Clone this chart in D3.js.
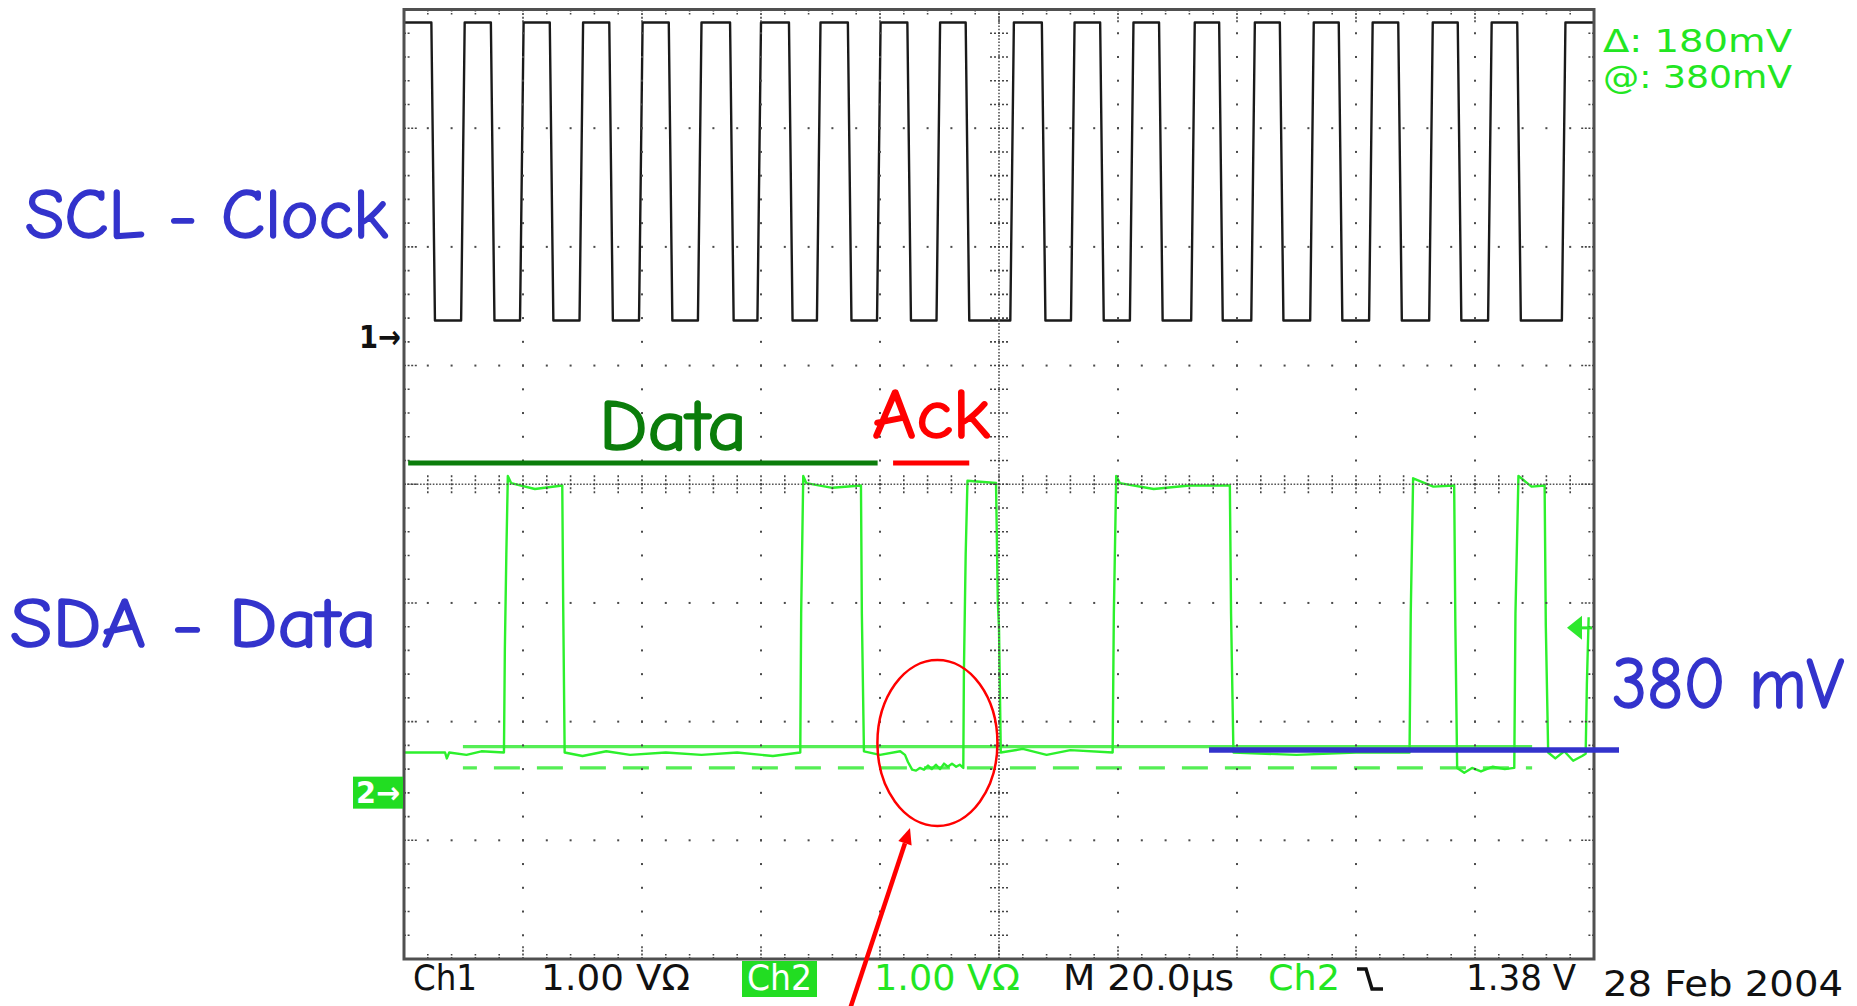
<!DOCTYPE html>
<html>
<head>
<meta charset="utf-8">
<script src="https://cdn.jsdelivr.net/npm/d3@7"></script>
<style>
  body { margin: 0; background: #fff; }
  svg { display: block; }
</style>
</head>
<body>
<div id="scope"></div>
<script>
// --- data (time in µs, voltage in V) ---

// Ch1 = SCL, edge times
var sclFalls = [4.6, 14.6, 24.5, 34.5, 44.5, 54.8, 64.7, 74.6, 84.6, 94.4,
                107.2, 117.0, 126.9, 137.0, 147.2, 157.1, 167.1, 177.1, 187.1];
var sclRises = [9.6, 19.5, 29.5, 39.5, 49.4, 59.4, 69.4, 79.5, 89.5, 101.9,
                112.1, 122.0, 132.3, 142.4, 152.3, 162.2, 172.3, 182.2, 194.6];
var sclHigh = 2.64, sclLow = 0.13;

// Ch2 = SDA, trace vertices [µs, V]
var sdaPoints = [
  [0, 0.33], [6.9, 0.33], [7.2, 0.28], [7.6, 0.33], [10.5, 0.31], [13, 0.34], [16.8, 0.33],
  [16.95, 1.2], [17.2, 2.0], [17.45, 2.66], [18.0, 2.6], [22, 2.55], [26.6, 2.58],
  [26.75, 1.6], [27.0, 0.33], [30, 0.30], [34, 0.34], [38, 0.31], [44, 0.33], [50, 0.31],
  [56, 0.33], [62, 0.30], [66.6, 0.33],
  [66.75, 1.5], [67.1, 2.66], [67.6, 2.6], [72, 2.56], [76.8, 2.58],
  [76.95, 1.5], [77.3, 0.34], [80, 0.31], [83.4, 0.34],
  [84.2, 0.31], [84.7, 0.25], [85.4, 0.185], [86.05, 0.177], [86.7, 0.2], [87.4, 0.185],
  [88.07, 0.22], [88.7, 0.19], [89.4, 0.227], [90.1, 0.19], [90.76, 0.236], [91.4, 0.21],
  [92.1, 0.236], [92.8, 0.21], [93.4, 0.227], [94.0, 0.2],
  [94.1, 1.0], [94.4, 2.0], [94.7, 2.62], [99.5, 2.6],
  [99.8, 1.6], [100.0, 1.38], [100.3, 0.33], [104, 0.36], [108, 0.31], [112, 0.35], [119.1, 0.33],
  [119.3, 1.5], [119.7, 2.66], [120.3, 2.6], [126, 2.55], [132, 2.58], [138.8, 2.58],
  [139.0, 1.5], [139.4, 0.33], [150, 0.31], [160, 0.33], [169.0, 0.33],
  [169.2, 1.5], [169.6, 2.64], [173, 2.57], [176.5, 2.58],
  [176.7, 1.4], [177.0, 0.2], [178.2, 0.16], [179.5, 0.2], [181, 0.17], [183, 0.21], [185, 0.19], [186.6, 0.2],
  [186.8, 1.5], [187.3, 2.66], [189.5, 2.57], [191.7, 2.58],
  [191.9, 1.4], [192.3, 0.33], [193.5, 0.28], [195, 0.34], [196.5, 0.26], [198, 0.3], [198.6, 0.32],
  [198.8, 0.9], [199.1, 1.47]
];

// cursors / trigger
var cursorVolts = [0.38, 0.20];
var cursorSpan = [9.9, 189.6];
var triggerVolts = 1.38;

// status line texts
var statusLeft = ["Ch1", "1.00 VΩ"];
var statusCh2 = ["Ch2", "1.00 VΩ"];
var statusTime = "M 20.0µs";
var statusTrig = ["Ch2", "1.38 V"];
var captureDate = "28 Feb 2004";
var cursorReadout = ["Δ: 180mV", "@: 380mV"];

// annotation labels
var labelScl = "SCL - Clock", labelSda = "SDA - Data";
var labelData = "Data", labelAck = "Ack", labelLevel = "380 mV";

// --- setup ---
var W = 1857, H = 1006;
var X0 = 404, X1 = 1594, Y0 = 9.5, Y1 = 959;

var svg = d3.select("#scope").append("svg")
    .attr("width", W).attr("height", H);

// time axis: 20 µs/div, 10 div
var x = d3.scaleLinear().domain([0, 200]).range([X0, X1]);
// vertical: divisions, centre = 0
var y = d3.scaleLinear().domain([-4, 4]).range([Y1, Y0]);
var ch1Pos = 1.25, ch2Pos = -2.59;   // ground offsets in div, 1 V/div
var gx = d3.scaleLinear().domain([0, 10]).range([X0, X1]);
var gy = d3.scaleLinear().domain([0, 8]).range([Y0, Y1]);

// --- graticule ---
var grid = svg.append("g");
var minorX = d3.range(0, 10.001, 0.2), minorY = d3.range(0, 8.001, 0.2);
var dots = [];
[1, 2, 3, 4, 6, 7, 8, 9].forEach(function(i) {
  minorY.forEach(function(j) { dots.push([gx(i), gy(j)]); });
});
[1, 2, 3, 5, 6, 7].forEach(function(j) {
  minorX.forEach(function(i) { dots.push([gx(i), gy(j)]); });
});
grid.selectAll("rect.dot").data(dots).enter().append("rect")
    .attr("class", "dot")
    .attr("x", function(d) { return d[0] - 1; })
    .attr("y", function(d) { return d[1] - 1; })
    .attr("width", 2).attr("height", 2)
    .attr("fill", "#4a4a4a");

// centre lines, dense dotted with ticks
grid.append("line").attr("x1", gx(5)).attr("x2", gx(5)).attr("y1", Y0).attr("y2", Y1)
    .attr("stroke", "#555").attr("stroke-width", 1.6).attr("stroke-dasharray", "1.6 1.6");
grid.append("line").attr("x1", X0).attr("x2", X1).attr("y1", gy(4)).attr("y2", gy(4))
    .attr("stroke", "#555").attr("stroke-width", 1.6).attr("stroke-dasharray", "1.6 1.6");
grid.selectAll("line.vt").data(minorY).enter().append("line")
    .attr("class", "vt")
    .attr("x1", gx(5) - 9).attr("x2", gx(5) + 9)
    .attr("y1", function(d) { return gy(d); }).attr("y2", function(d) { return gy(d); })
    .attr("stroke", "#444").attr("stroke-width", 1.6).attr("stroke-dasharray", "2 2");
grid.selectAll("line.ht").data(minorX).enter().append("line")
    .attr("class", "ht")
    .attr("y1", gy(4) - 9).attr("y2", gy(4) + 9)
    .attr("x1", function(d) { return gx(d); }).attr("x2", function(d) { return gx(d); })
    .attr("stroke", "#444").attr("stroke-width", 1.6).attr("stroke-dasharray", "2 2");

// ticks on the frame
function isMajor(d) { return Math.abs(d - Math.round(d)) < 0.01; }
[[Y1, -1], [Y0, 1]].forEach(function(e) {
  grid.selectAll(null).data(minorX).enter().append("line")
      .attr("x1", function(d) { return gx(d); }).attr("x2", function(d) { return gx(d); })
      .attr("y1", e[0]).attr("y2", function(d) { return e[0] + e[1] * (isMajor(d) ? 13 : 5); })
      .attr("stroke", "#444").attr("stroke-width", 1.6).attr("stroke-dasharray", "2 1.6");
});
[[X0, 1], [X1, -1]].forEach(function(e) {
  grid.selectAll(null).data(minorY).enter().append("line")
      .attr("y1", function(d) { return gy(d); }).attr("y2", function(d) { return gy(d); })
      .attr("x1", e[0]).attr("x2", function(d) { return e[0] + e[1] * (isMajor(d) ? 13 : 6); })
      .attr("stroke", "#444").attr("stroke-width", 1.6).attr("stroke-dasharray", "2 1.6");
});

svg.append("clipPath").attr("id", "plot").append("rect")
    .attr("x", X0).attr("y", Y0).attr("width", X1 - X0).attr("height", Y1 - Y0);

// --- Ch2 cursors ---
var cursors = svg.append("g").attr("clip-path", "url(#plot)");
cursors.selectAll("line").data(cursorVolts).enter().append("line")
    .attr("x1", x(cursorSpan[0])).attr("x2", x(cursorSpan[1]))
    .attr("y1", function(d) { return y(ch2Pos + d); })
    .attr("y2", function(d) { return y(ch2Pos + d); })
    .attr("stroke", "#55ee55").attr("stroke-width", 3.2)
    .attr("stroke-dasharray", function(d, i) { return i ? "26 17" : null; })
    .attr("stroke-dashoffset", 12);

// --- traces ---
var sclEdges = sclFalls.map(function(t) { return {t: t, from: sclHigh, to: sclLow}; })
  .concat(sclRises.map(function(t) { return {t: t, from: sclLow, to: sclHigh}; }))
  .sort(function(a, b) { return a.t - b.t; });
var sclPts = [[0, sclHigh]];
sclEdges.forEach(function(e) {
  sclPts.push([e.t, e.from], [e.t + 0.3, (e.from + e.to) / 2], [e.t + 0.6, e.to]);
});
sclPts.push([200, sclEdges[sclEdges.length - 1].to]);

var line1 = d3.line().x(function(d) { return x(d[0]); }).y(function(d) { return y(ch1Pos + d[1]); });
var line2 = d3.line().x(function(d) { return x(d[0]); }).y(function(d) { return y(ch2Pos + d[1]); });

var traces = svg.append("g").attr("clip-path", "url(#plot)").attr("fill", "none");
traces.append("path").attr("d", line1(sclPts))
    .attr("stroke", "#1a1a1a").attr("stroke-width", 2.4).attr("stroke-linejoin", "round");
traces.append("path").attr("d", line2(sdaPoints))
    .attr("stroke", "#2cf02c").attr("stroke-width", 2.4).attr("stroke-linejoin", "round");

// frame
grid.append("rect").attr("x", X0).attr("y", Y0).attr("width", X1 - X0).attr("height", Y1 - Y0)
    .attr("fill", "none").attr("stroke", "#505050").attr("stroke-width", 3);
grid.raise();

// --- ground markers and trigger level ---
var mono = "'DejaVu Sans', 'Liberation Sans', sans-serif";
svg.append("text").attr("x", 359).attr("y", y(ch1Pos) + 12)
    .attr("font-family", mono).attr("font-weight", "bold").attr("font-size", 32)
    .attr("textLength", 42).attr("lengthAdjust", "spacingAndGlyphs")
    .attr("fill", "#111").text("1→");
svg.append("rect").attr("x", 353).attr("y", y(ch2Pos) - 15).attr("width", 50).attr("height", 32)
    .attr("fill", "#22dd22");
svg.append("text").attr("x", 356).attr("y", y(ch2Pos) + 11)
    .attr("font-family", mono).attr("font-weight", "bold").attr("font-size", 30)
    .attr("textLength", 44).attr("lengthAdjust", "spacingAndGlyphs")
    .attr("fill", "#fff").text("2→");
var ty = y(ch2Pos + triggerVolts);
svg.append("path")
    .attr("d", "M" + 1567 + "," + ty + "L1582," + (ty - 12) + "L1582," + (ty + 12) + "Z")
    .attr("fill", "#2ee82e");
svg.append("line").attr("x1", 1580).attr("x2", X1 - 2).attr("y1", ty).attr("y2", ty)
    .attr("stroke", "#2ee82e").attr("stroke-width", 3);

// --- readouts ---
var narrow = "'Liberation Sans Narrow', 'DejaVu Sans Condensed', 'Liberation Sans', sans-serif";
function readout(txt, xx, yy, w, col, size) {
  return svg.append("text").attr("x", xx).attr("y", yy)
      .attr("font-family", narrow).attr("font-size", size || 36)
      .attr("textLength", w).attr("lengthAdjust", "spacingAndGlyphs")
      .attr("fill", col).text(txt);
}
readout(cursorReadout[0], 1603, 52, 189, "#22e622", 32);
readout(cursorReadout[1], 1603, 88, 189, "#22e622", 32);

readout(statusLeft[0], 413, 990, 64, "#111");
readout(statusLeft[1], 541, 990, 149, "#111");
svg.append("rect").attr("x", 742).attr("y", 961).attr("width", 75).attr("height", 36).attr("fill", "#22dd22");
readout(statusCh2[0], 747, 990, 65, "#fff");
readout(statusCh2[1], 874, 990, 146, "#22e622");
readout(statusTime, 1063, 990, 171, "#111");
readout(statusTrig[0], 1268, 990, 72, "#22e622");
svg.append("path").attr("d", "M1357,969H1366L1372,989H1383")
    .attr("fill", "none").attr("stroke", "#111").attr("stroke-width", 3.5);
readout(statusTrig[1], 1466, 990, 110, "#111");
readout(captureDate, 1603, 996, 240, "#111");

// --- hand-drawn annotations ---
var comic = "'Comic Sans MS', 'Comic Neue', 'Noto Sans', sans-serif";
function note(txt, xx, yy, w, size, col) {
  return svg.append("text").attr("x", xx).attr("y", yy)
      .attr("font-family", comic).attr("font-size", size)
      .attr("textLength", w).attr("lengthAdjust", "spacingAndGlyphs")
      .attr("fill", col).attr("stroke", col).attr("stroke-width", 1.6)
      .attr("stroke-linejoin", "round").text(txt);
}
var blue = "#3333cc", dgreen = "#0b7d0b", red = "#ff0000";
note(labelScl, 25, 238, 363, 70, blue);
note(labelSda, 10, 647, 367, 70, blue);
note(labelData, 599, 450, 148, 72, dgreen);
note(labelAck, 872, 438, 118, 70, red);
note(labelLevel, 1612, 708, 232, 72, blue);

// Data / Ack spans (in µs)
svg.append("line").attr("x1", x(0.7)).attr("x2", x(79.6)).attr("y1", 463).attr("y2", 463)
    .attr("stroke", dgreen).attr("stroke-width", 5);
svg.append("line").attr("x1", x(82.2)).attr("x2", x(95.0)).attr("y1", 463).attr("y2", 463)
    .attr("stroke", red).attr("stroke-width", 5);

// ack dip circled
svg.append("ellipse").attr("cx", x(89.65)).attr("cy", y(ch2Pos + 0.41))
    .attr("rx", 60).attr("ry", 83)
    .attr("fill", "none").attr("stroke", red).attr("stroke-width", 2.5);

// arrow pointing at the ellipse
var tip = [910, 828], tail = [849, 1012];
var len = Math.hypot(tip[0] - tail[0], tip[1] - tail[1]);
var ux = (tip[0] - tail[0]) / len, uy = (tip[1] - tail[1]) / len;
var base = [tip[0] - 16 * ux, tip[1] - 16 * uy];
svg.append("line").attr("x1", tail[0]).attr("y1", tail[1]).attr("x2", base[0]).attr("y2", base[1])
    .attr("stroke", red).attr("stroke-width", 4.5);
svg.append("path")
    .attr("d", "M" + tip + "L" + [base[0] - 7 * uy, base[1] + 7 * ux] + "L" + [base[0] + 7 * uy, base[1] - 7 * ux] + "Z")
    .attr("fill", red);

// 380 mV level line
svg.append("line").attr("x1", x(135.3)).attr("x2", 1619)
    .attr("y1", y(ch2Pos + 0.35)).attr("y2", y(ch2Pos + 0.35))
    .attr("stroke", blue).attr("stroke-width", 5.5);
</script>
</body>
</html>
